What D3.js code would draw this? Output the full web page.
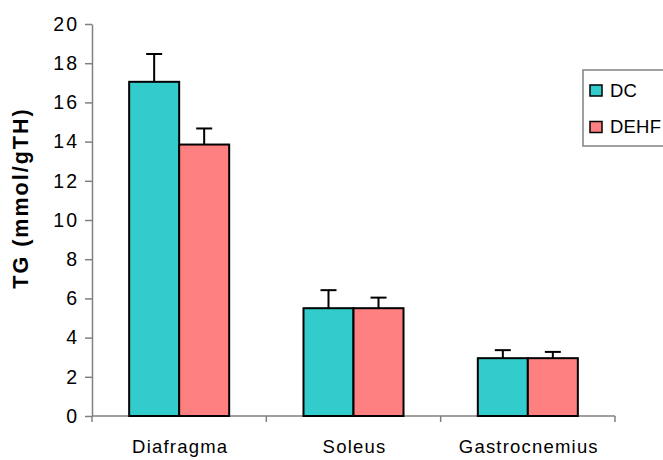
<!DOCTYPE html>
<html>
<head>
<meta charset="utf-8">
<script src="https://cdn.jsdelivr.net/npm/d3@7"></script>
<style>
  body { margin: 0; background: #fff; }
  svg { display: block; font-family: "Liberation Sans", Arial, sans-serif; }
</style>
</head>
<body>
<div id="chart"></div>
<script>
// Data
const categories = ["Diafragma", "Soleus", "Gastrocnemius"];
const seriesNames = ["DC", "DEHF"];
const dcValues = [17.05, 5.5, 2.95];
const dehfValues = [13.85, 5.5, 2.95];
const dcErrors = [1.42, 0.92, 0.41];
const dehfErrors = [0.82, 0.54, 0.32];
const yTicks = [0, 2, 4, 6, 8, 10, 12, 14, 16, 18, 20];

const colors = { DC: "#33CCCC", DEHF: "#FF8080" };

const width = 663;
const height = 460;
const plot = { left: 92, right: 615, top: 24, bottom: 416 };

const rows = categories.map((c, i) => ({
    category: c,
    values: [
        { key: "DC", value: dcValues[i], err: dcErrors[i] },
        { key: "DEHF", value: dehfValues[i], err: dehfErrors[i] }
    ]
}));

const svg = d3.select("#chart")
    .append("svg")
    .attr("width", width)
    .attr("height", height);

// Scales
const x = d3.scaleBand()
    .domain(categories)
    .range([plot.left, plot.right])
    .padding(0);

const xInner = d3.scaleBand()
    .domain(seriesNames)
    .range([0, x.bandwidth()])
    .paddingInner(0)
    .paddingOuter(0.743);

const y = d3.scaleLinear()
    .domain([0, 20])
    .range([plot.bottom, plot.top]);

// Y axis
const yAxis = svg.append("g")
    .attr("transform", `translate(${plot.left},0)`)
    .call(d3.axisLeft(y).tickValues(yTicks).tickSize(7).tickSizeOuter(0).tickPadding(6));
yAxis.select(".domain").attr("stroke", "#808080").attr("stroke-width", 1.5);
yAxis.selectAll(".tick line").attr("stroke", "#808080").attr("stroke-width", 1.5);
yAxis.selectAll(".tick text")
    .attr("fill", "#000")
    .style("font-size", "19.5px")
    .style("letter-spacing", "2px")
    .style("font-family", "Liberation Sans, Arial, sans-serif");

// X axis: baseline with ticks at category boundaries
const xAxisG = svg.append("g");
xAxisG.append("line")
    .attr("x1", plot.left)
    .attr("x2", plot.right)
    .attr("y1", y(0))
    .attr("y2", y(0))
    .attr("stroke", "#808080")
    .attr("stroke-width", 1.5);

const boundaries = categories.map(c => x(c)).concat([x(categories[categories.length - 1]) + x.bandwidth()]);
xAxisG.selectAll(".xtick")
    .data(boundaries)
    .join("line")
    .attr("class", "xtick")
    .attr("x1", d => d)
    .attr("x2", d => d)
    .attr("y1", y(0))
    .attr("y2", y(0) + 6)
    .attr("stroke", "#808080")
    .attr("stroke-width", 1.5);

xAxisG.selectAll(".xlabel")
    .data(categories)
    .join("text")
    .attr("class", "xlabel")
    .attr("x", d => x(d) + x.bandwidth() / 2 + 1)
    .attr("y", 453)
    .attr("text-anchor", "middle")
    .style("font-size", "18.5px")
    .style("letter-spacing", "1.2px")
    .text(d => d);

// Bars
const groups = svg.append("g")
    .selectAll(".group")
    .data(rows)
    .join("g")
    .attr("class", "group")
    .attr("transform", d => `translate(${x(d.category)},0)`);

groups.selectAll("rect")
    .data(d => d.values)
    .join("rect")
    .attr("x", d => xInner(d.key))
    .attr("y", d => y(d.value))
    .attr("width", xInner.bandwidth())
    .attr("height", d => y(0) - y(d.value))
    .attr("fill", d => colors[d.key])
    .attr("stroke", "#000")
    .attr("stroke-width", 2);

// Error bars (upper only)
const capHalf = 8;
const errG = groups.selectAll(".err")
    .data(d => d.values)
    .join("g")
    .attr("class", "err")
    .attr("stroke", "#000")
    .attr("stroke-width", 2);

errG.append("line")
    .attr("x1", d => xInner(d.key) + xInner.bandwidth() / 2)
    .attr("x2", d => xInner(d.key) + xInner.bandwidth() / 2)
    .attr("y1", d => y(d.value))
    .attr("y2", d => y(d.value + d.err));

errG.append("line")
    .attr("x1", d => xInner(d.key) + xInner.bandwidth() / 2 - capHalf)
    .attr("x2", d => xInner(d.key) + xInner.bandwidth() / 2 + capHalf)
    .attr("y1", d => y(d.value + d.err))
    .attr("y2", d => y(d.value + d.err));

// Y axis title
svg.append("text")
    .attr("transform", `translate(28,198) rotate(-90)`)
    .attr("text-anchor", "middle")
    .style("font-size", "21.5px")
    .style("font-weight", "bold")
    .style("letter-spacing", "2px")
    .text("TG (mmol/gTH)");

// Legend
const legend = svg.append("g");
legend.append("rect")
    .attr("x", 583)
    .attr("y", 70)
    .attr("width", 100)
    .attr("height", 76)
    .attr("fill", "#fff")
    .attr("stroke", "#808080")
    .attr("stroke-width", 1.5);

const legendItems = legend.selectAll(".item")
    .data(seriesNames)
    .join("g")
    .attr("class", "item")
    .attr("transform", (d, i) => `translate(590,${85 + i * 36.5})`);

legendItems.append("rect")
    .attr("width", 12)
    .attr("height", 11)
    .attr("fill", d => colors[d])
    .attr("stroke", "#000")
    .attr("stroke-width", 1.5);

legendItems.append("text")
    .attr("x", 20)
    .attr("y", 11.5)
    .style("font-size", "18.5px")
    .style("letter-spacing", "0.2px")
    .text(d => d);
</script>
</body>
</html>
